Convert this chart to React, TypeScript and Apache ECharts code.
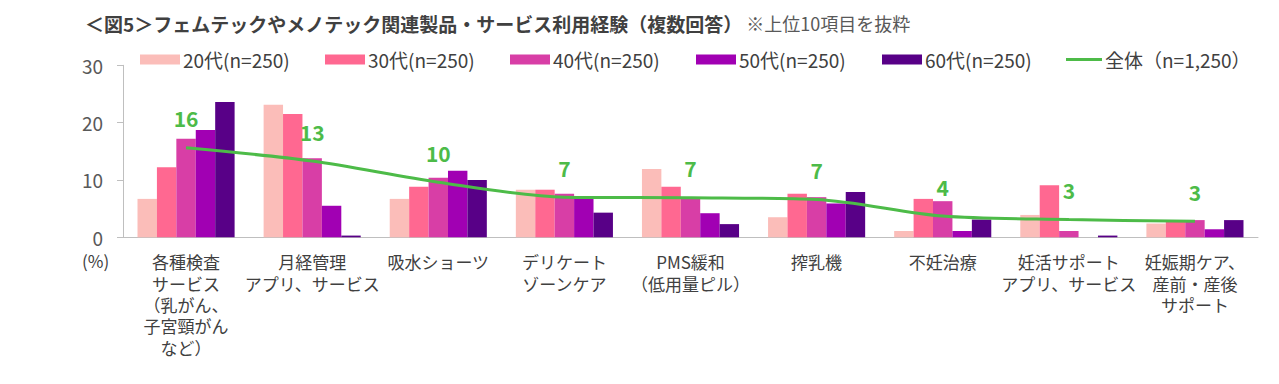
import React, { useEffect, useRef } from "react";
import * as echarts from "echarts";

const categories = [
  "各種検査\nサービス\n（乳がん、\n子宮頸がん\nなど）",
  "月経管理\nアプリ、サービス",
  "吸水ショーツ",
  "デリケート\nゾーンケア",
  "PMS緩和\n（低用量ピル）",
  "搾乳機",
  "不妊治療",
  "妊活サポート\nアプリ、サービス",
  "妊娠期ケア、\n産前・産後\nサポート",
];

const seriesNames = ["20代(n=250)", "30代(n=250)", "40代(n=250)", "50代(n=250)", "60代(n=250)"];
const totalName = "全体（n=1,250）";

const age20 = [6.7, 23.1, 6.7, 8.3, 11.9, 3.5, 1.1, 3.9, 2.4];
const age30 = [12.2, 21.5, 8.8, 8.3, 8.8, 7.6, 6.7, 9.1, 2.8];
const age40 = [17.2, 13.8, 10.4, 7.6, 6.8, 7.0, 6.3, 1.1, 3.0];
const age50 = [18.7, 5.5, 11.6, 7.1, 4.2, 5.9, 1.1, 0, 1.4];
const age60 = [23.6, 0.3, 10.0, 4.3, 2.3, 7.9, 3.1, 0.3, 3.0];
const total = [15.6, 13.3, 9.6, 7.0, 6.9, 6.6, 3.7, 3.1, 2.8];

const yTicks = { min: 0, max: 30, interval: 10 };

const barColors = ["#fbbdb9", "#ff6891", "#d83ea6", "#a100b3", "#580087"];
const lineColor = "#4dbb48";
const legendLefts = [140, 325, 510, 696, 882, 1066];

export default function App() {
  const ref = useRef<HTMLDivElement>(null);
  useEffect(() => {
    if (!ref.current) return;
    const chart = echarts.init(ref.current, undefined, { renderer: "svg" });
    const font = "'Noto Sans CJK JP', 'Noto Sans', sans-serif";
    const barData = [age20, age30, age40, age50, age60];

    const legendText = { fontFamily: font, fontSize: 19, color: "#404040", padding: [0, 0, 0, -2] };
    const legends: any[] = seriesNames.map((n, i) => ({
      left: legendLefts[i],
      top: 50,
      itemWidth: 40,
      itemHeight: 10,
      itemGap: 0,
      padding: 0,
      data: [{ name: n, icon: "rect" }],
      textStyle: legendText,
    }));
    legends.push({
      left: legendLefts[5],
      top: 50,
      itemWidth: 36,
      itemHeight: 3,
      itemGap: 0,
      padding: 0,
      data: [{ name: totalName, icon: "rect" }],
      textStyle: legendText,
    });

    chart.setOption({
      animation: false,
      textStyle: { fontFamily: font },
      title: {
        left: 80,
        top: 9,
        text: "{a|＜図5＞フェムテックやメノテック関連製品・サービス利用経験（複数回答）}{b| ※上位10項目を抜粋}",
        textStyle: {
          fontWeight: "normal",
          rich: {
            a: { fontFamily: font, fontSize: 19, fontWeight: "bold", color: "#404040", verticalAlign: "bottom" },
            b: { fontFamily: font, fontSize: 18, fontWeight: "normal", color: "#595959", verticalAlign: "bottom", padding: [0, 0, 1, 0] },
          },
        },
      },
      legend: legends,
      grid: { left: 123, right: 21, top: 65.3, bottom: 146.7, containLabel: false },
      xAxis: {
        type: "category",
        data: categories,
        axisLine: { lineStyle: { color: "#bfbfbf", width: 1 } },
        axisTick: { show: false },
        axisLabel: {
          interval: 0,
          margin: 14,
          fontFamily: font,
          fontSize: 17,
          lineHeight: 21.3,
          color: "#404040",
          align: "center",
        },
      },
      yAxis: {
        type: "value",
        min: yTicks.min,
        max: yTicks.max,
        interval: yTicks.interval,
        axisLine: { show: true, lineStyle: { color: "#bfbfbf", width: 1 } },
        axisTick: { show: true, length: 6, lineStyle: { color: "#bfbfbf" } },
        splitLine: { show: false },
        axisLabel: { margin: 20, fontFamily: font, fontSize: 19, color: "#595959" },
      },
      graphic: [
        {
          type: "text",
          left: 82,
          top: 252,
          style: { text: "(%)", font: `17px ${font}`, fill: "#404040" },
        },
      ],
      series: [
        ...barData.map((d, i) => ({
          name: seriesNames[i],
          type: "bar",
          data: d,
          barGap: "0%",
          barCategoryGap: "23%",
          itemStyle: { color: barColors[i] },
        })),
        {
          name: totalName,
          type: "line",
          data: total,
          smooth: 0.3,
          showSymbol: true,
          symbol: "circle",
          symbolSize: 0,
          lineStyle: { color: lineColor, width: 3 },
          itemStyle: { color: lineColor },
          label: {
            show: true,
            position: "top",
            distance: 19,
            fontFamily: font,
            fontSize: 21,
            fontWeight: "bold",
            color: lineColor,
            formatter: (p: any) => String(Math.round(p.value)),
          },
          z: 5,
        },
      ],
    });
    return () => chart.dispose();
  }, []);
  return <div ref={ref} style={{ position: "absolute", left: 0, top: 0, width: 1279, height: 384 }} />;
}
